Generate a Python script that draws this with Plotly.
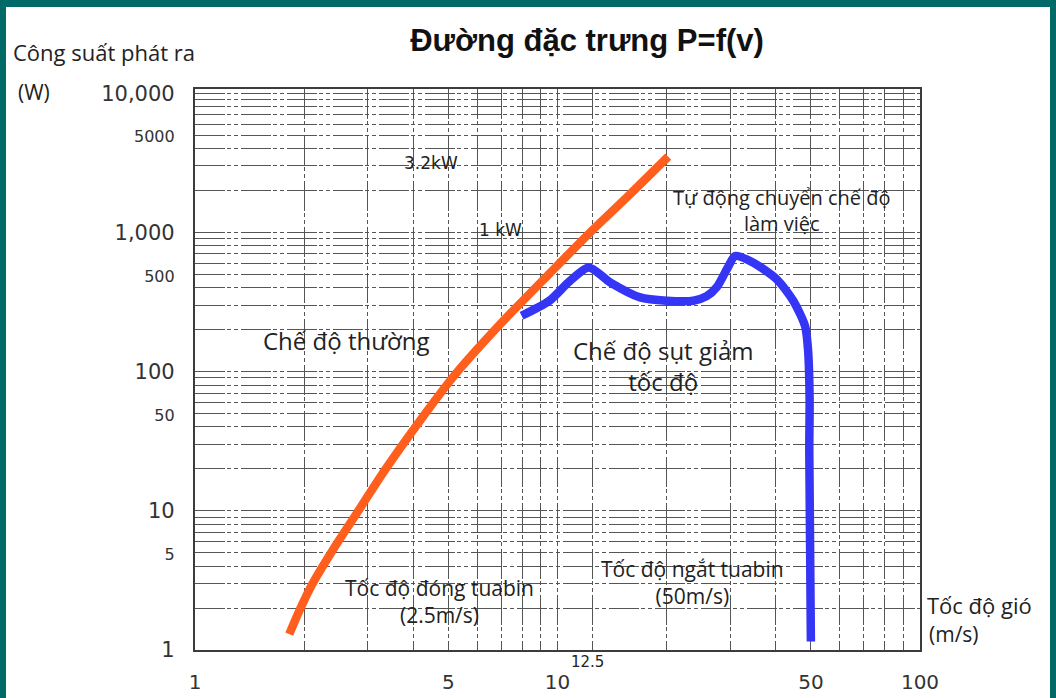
import plotly.graph_objects as go

# ---------------- data ----------------
wind_normal = [1.82, 1.95, 2.10, 2.40, 2.82, 3.34, 4.18, 5.21, 6.94, 9.54, 12.5, 15.9, 20.2]
power_normal = [1.30, 1.97, 2.93, 5.23, 9.96, 19.6, 44.6, 94.7, 218, 511, 1040, 1895, 3500]

wind_reduced = [7.96, 9.5, 10.8, 12.2, 14.0, 16.9, 20.0, 23.7, 25.8, 27.5, 29.5, 30.9,
                34.6, 40.3, 44.7, 48.2, 49.1, 49.6, 49.5, 50.0]
power_reduced = [252, 323, 446, 560, 436, 341, 323, 323, 348, 404, 560, 676,
                 608, 459, 323, 212, 144, 63, 27, 1.15]

y_grid = [m * 10 ** e for e in range(4) for m in range(1, 10)] + [10000]
y_big_labels = {1: "1", 10: "10", 100: "100", 1000: "1,000", 10000: "10,000"}
y_small_labels = {5: "5", 50: "50", 500: "500", 5000: "5000"}

x_grid = [1, 2, 3, 4, 5, 6, 7, 8, 9, 10, 12.5, 20, 30, 40, 50, 60, 70, 80, 90, 100]
x_labels = {1: "1", 5: "5", 10: "10", 50: "50", 100: "100"}

# ---------------- layout helpers ----------------
FW, FH = 1056, 698
L, T, W, H = 195, 89, 725, 561


def fx(px):
    return (px - L) / W


def fy(py):
    return (T + H - py) / H


def ytext(v):
    if v in y_big_labels:
        return y_big_labels[v]
    if v in y_small_labels:
        return "<span style='font-size:16px'>" + y_small_labels[v] + "</span>"
    return ""


GRID_DASH = "30px,2px,4px,3px,4px,3px"
GRID_COLOR = "#555555"
TXT = "#222222"

fig = go.Figure()
fig.add_trace(go.Scatter(x=wind_normal, y=power_normal, mode="lines",
                         line=dict(color="#FF5E1C", width=8.5, shape="spline", smoothing=0.8),
                         showlegend=False, hoverinfo="x+y"))
fig.add_trace(go.Scatter(x=wind_reduced, y=power_reduced, mode="lines",
                         line=dict(color="#3535F5", width=8.5, shape="spline", smoothing=0.7),
                         showlegend=False, hoverinfo="x+y"))

fig.update_xaxes(type="log", range=[0, 2], tickvals=x_grid, automargin=False,
                 ticktext=[x_labels.get(v, "") for v in x_grid],
                 showgrid=True, gridcolor=GRID_COLOR, gridwidth=1.4, griddash=GRID_DASH,
                 showline=True, mirror=True, linecolor="#3c3c3c", linewidth=2.2,
                 ticks="", zeroline=False, ticklabelstandoff=13,
                 tickfont=dict(family="DejaVu Sans", size=20, color="#333"))
fig.update_yaxes(type="log", range=[0, 4.03], tickvals=y_grid, automargin=False,
                 ticktext=[ytext(v) for v in y_grid],
                 showgrid=True, gridcolor=GRID_COLOR, gridwidth=1.4, griddash=GRID_DASH,
                 showline=True, mirror=True, linecolor="#3c3c3c", linewidth=2.2,
                 ticks="", zeroline=False, ticklabelstandoff=14,
                 tickfont=dict(family="DejaVu Sans", size=21, color="#333"))

# white boxes behind the in-plot labels (cut the grid like the original)
boxes = [
    (396, 152, 468, 175),   # 3.2kW
    (470, 220, 530, 240),   # 1 kW
    (668, 180, 915, 242),   # Tự động chuyển chế độ
    (260, 316, 437, 369),   # Chế độ thường
    (572, 332, 773, 402),   # Chế độ sụt giảm
    (333, 570, 545, 642),   # Tốc độ đóng
    (583, 553, 795, 620),   # Tốc độ ngắt
]
for x0, y0, x1, y1 in boxes:
    fig.add_shape(type="rect", xref="paper", yref="paper",
                  x0=fx(x0), x1=fx(x1), y0=fy(y1), y1=fy(y0),
                  fillcolor="white", line=dict(width=0), layer="between")

# teal frame
TEAL = "#016A66"
for x0, y0, x1, y1 in [(0, 0, FW, 7), (0, 0, 6, FH), (FW - 6, 0, FW, FH)]:
    fig.add_shape(type="rect", xref="paper", yref="paper",
                  x0=fx(x0), x1=fx(x1), y0=fy(y1), y1=fy(y0),
                  fillcolor=TEAL, line=dict(width=0), layer="above")

labels = [
    ("3.2kW", 431, 163, 17, "center", "DejaVu Sans"),
    ("1 kW", 500, 230, 17, "center", "DejaVu Sans"),
    ("Tự động chuyển chế độ<br>làm việc", 781, 210, 20, "center", "Open Sans"),
    ("Chế độ thường", 346, 340, 24, "center", "Open Sans"),
    ("Chế độ sụt giảm<br>tốc độ", 663, 366, 24, "center", "Open Sans"),
    ("Tốc độ đóng tuabin<br>(2.5m/s)", 439, 601, 21, "center", "Open Sans"),
    ("Tốc độ ngắt tuabin<br>(50m/s)", 692, 582, 21, "center", "Open Sans"),
    ("12.5", 587, 662, 15, "center", "DejaVu Sans"),
]
for text, cx, cy, size, al, fam in labels:
    fig.add_annotation(text=text, xref="paper", yref="paper", x=fx(cx), y=fy(cy),
                       xanchor="center", yanchor="middle", showarrow=False, align=al,
                       font=dict(family=fam, size=size, color=TXT))

side_labels = [
    ("Công suất phát ra", 11, 52, 22),
    ("(W)", 16, 92, 21),
    ("Tốc độ gió", 925, 605, 22),
    ("(m/s)", 927, 634, 21),
]
for text, lx, cy, size in side_labels:
    fig.add_annotation(text=text, xref="paper", yref="paper", x=fx(lx), y=fy(cy),
                       xanchor="left", yanchor="middle", showarrow=False,
                       font=dict(family="Open Sans", size=size, color=TXT))

fig.update_layout(
    width=FW, height=FH,
    margin=dict(l=L, r=FW - L - W, t=T, b=FH - T - H, autoexpand=False),
    paper_bgcolor="white", plot_bgcolor="white",
    title=dict(text="<b>Đường đặc trưng P=f(v)</b>", x=587 / FW, y=1 - 40 / FH,
               xanchor="center", yanchor="middle", xref="container", yref="container",
               font=dict(family="Liberation Sans", size=31, color="#111")),
    showlegend=False,
)

fig.write_html("out.html", config={"displayModeBar": False},
               post_script="document.body.style.margin='0px';document.body.style.overflow='hidden';")
